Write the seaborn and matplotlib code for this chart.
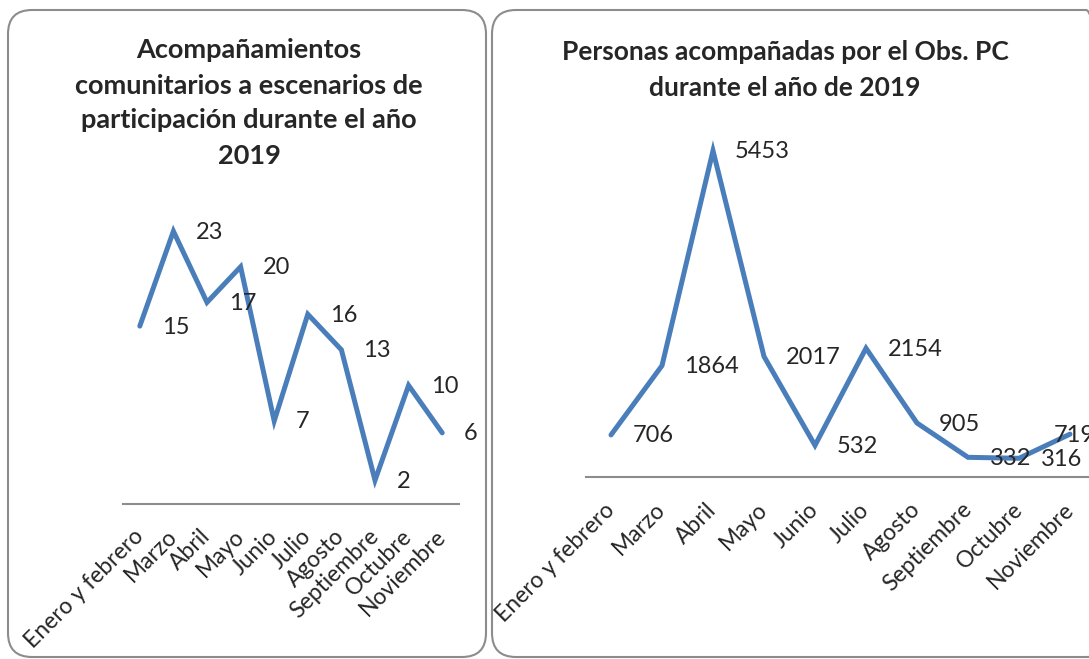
import seaborn as sns
import matplotlib.pyplot as plt
import pandas as pd
from matplotlib.patches import FancyBboxPatch
from matplotlib.transforms import IdentityTransform

meses = ['Enero y febrero', 'Marzo', 'Abril', 'Mayo', 'Junio', 'Julio',
         'Agosto', 'Septiembre', 'Octubre', 'Noviembre']
acompanamientos = [15, 23, 17, 20, 7, 16, 13, 2, 10, 6]
personas = [706, 1864, 5453, 2017, 532, 2154, 905, 332, 316, 719]

titulo_izq = 'Acompañamientos\ncomunitarios a escenarios de\nparticipación durante el año\n2019'
titulo_der = 'Personas acompañadas por el Obs. PC\ndurante el año de 2019'

LINE_COLOR = '#4a7ebb'
GRAY = '#8c8c8c'

sns.set_style('white')
plt.rcParams['font.family'] = ['Lato', 'DejaVu Sans']

W, H = 1089, 659
fig = plt.figure(figsize=(W / 100, H / 100), dpi=100)


def panel(x0, x1):
    # rounded border of each excel chart, in pixels
    box = FancyBboxPatch((x0, 2), x1 - x0, 647,
                         boxstyle='round,pad=0,rounding_size=24',
                         transform=IdentityTransform(), fill=False,
                         edgecolor=GRAY, linewidth=1.5)
    fig.add_artist(box)


def line_chart(ax, values, ymax, last_left=False):
    df = pd.DataFrame({'mes': meses, 'valor': values})
    sns.lineplot(data=df, x='mes', y='valor', ax=ax, color=LINE_COLOR,
                 linewidth=3.6, sort=False)
    ax.lines[0].set_solid_capstyle('round')
    ax.lines[0].set_solid_joinstyle('miter')

    for i, v in enumerate(values):
        dx = 22
        # excel pushes the last label back inside the chart
        if last_left and i == len(values) - 1:
            dx = -16
        ax.annotate(str(v), (i, v), xytext=(dx, -1), textcoords='offset pixels',
                    ha='left', va='center', fontsize=17)

    ax.set_xlim(-0.5, len(values) - 0.5)
    ax.set_ylim(0, ymax)
    ax.set_facecolor('none')
    sns.despine(ax=ax, left=True)
    ax.spines['bottom'].set_color(GRAY)
    ax.spines['bottom'].set_linewidth(1.5)
    ax.set_yticks([])
    ax.set_xlabel('')
    ax.set_ylabel('')
    ax.tick_params(axis='x', length=0, pad=21, labelsize=16.5)
    plt.setp(ax.get_xticklabels(), rotation=45, ha='right', va='center',
             rotation_mode='anchor')


panel(8, 486)
panel(492, 1110)

ax1 = fig.add_axes([123 / W, 1 - 504 / H, 336 / W, 296.5 / H])
line_chart(ax1, acompanamientos, 25)

ax2 = fig.add_axes([585.5 / W, 1 - 477.2 / H, 510 / W, 359.2 / H])
line_chart(ax2, personas, 6000, last_left=True)

fig.text(249 / W, 1 - 103 / H, titulo_izq, ha='center', va='center',
         fontsize=19.5, fontweight='bold', linespacing=1.55)
fig.text(785 / W, 1 - 70 / H, titulo_der, ha='center', va='center',
         fontsize=19, fontweight='bold', linespacing=1.55)

fig.savefig('out.png', dpi=100)
